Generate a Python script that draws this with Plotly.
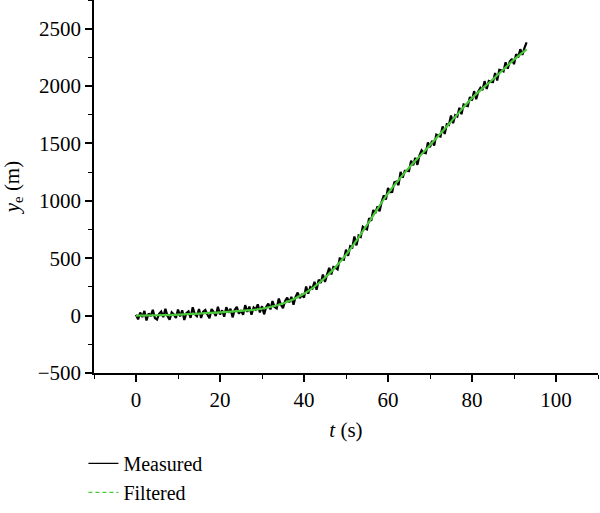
import numpy as np
import plotly.graph_objects as go

t_measured = np.arange(0, 93.01, 0.5)
measured = [
    7, -33, 27, -13, 41, -43, 18, -4, 51, -22,
    -34, 16, 35, -13, 59, -3, -36, 28, 10, -21,
    53, -7, 46, -38, 22, 37, -20, 73, 13, -5,
    57, -21, 35, 49, 10, -23, 57, 31, -4, 78,
    9, 47, -9, 74, 26, 59, -15, 50, 76, 16,
    46, 7, 91, 32, 79, 7, 71, 53, 98, 27,
    82, 11, 76, 105, 54, 127, 74, 62, 149, 95,
    65, 128, 156, 115, 163, 96, 164, 201, 152, 181,
    157, 254, 191, 249, 236, 295, 225, 313, 284, 358,
    293, 359, 417, 359, 424, 417, 404, 498, 492, 488,
    575, 521, 604, 594, 689, 612, 697, 685, 774, 760,
    751, 848, 827, 920, 892, 952, 909, 992, 1047, 1012,
    1112, 1077, 1078, 1161, 1167, 1137, 1253, 1202, 1262, 1261,
    1259, 1349, 1310, 1375, 1314, 1397, 1440, 1419, 1415, 1509,
    1467, 1522, 1482, 1577, 1567, 1561, 1649, 1582, 1667, 1660,
    1744, 1677, 1746, 1735, 1811, 1755, 1840, 1832, 1826, 1905,
    1874, 1956, 1886, 1954, 1985, 1965, 2043, 1974, 2045, 2037,
    2035, 2114, 2049, 2142, 2137, 2128, 2207, 2152, 2213, 2237,
    2191, 2278, 2250, 2321, 2272, 2332, 2380,
]

# Filtered estimate (key points)
t_filtered = [0, 5, 10, 15, 20, 25, 30, 35, 40, 45, 50, 55, 60, 65, 70, 75, 80, 85, 90, 93]
filtered = [0, 3, 8, 18, 28, 42, 60, 105, 190, 330, 530, 790, 1065, 1288, 1485, 1690, 1895, 2060, 2230, 2320]

x_ticks = [0, 20, 40, 60, 80, 100]
y_ticks = [-500, 0, 500, 1000, 1500, 2000, 2500]
y_tick_labels = ["\u2212500", "0", "500", "1000", "1500", "2000", "2500"]

FONT = "Liberation Serif"
GREEN = "#4cc83c"

fig = go.Figure()
fig.add_trace(go.Scatter(
    x=t_measured, y=measured, mode="lines", name="Measured", showlegend=False,
    line=dict(color="black", width=2.2, simplify=False),
))
fig.add_trace(go.Scatter(
    x=t_filtered, y=filtered, mode="lines", name="Filtered",
    line=dict(color=GREEN, width=2.2, shape="spline"), showlegend=False,
))
# legend entries
fig.add_trace(go.Scatter(
    x=[None], y=[None], mode="lines", name="Measured",
    line=dict(color="black", width=1.3),
))
fig.add_trace(go.Scatter(
    x=[None], y=[None], mode="lines", name="Filtered",
    line=dict(color=GREEN, width=1.2, dash="4px,3px"),
))

axis_common = dict(
    showline=True, linecolor="black", linewidth=1.5,
    ticks="outside", ticklen=7, tickwidth=1.5, tickcolor="black",
    showgrid=False, zeroline=False, mirror=False, automargin=False,
    tickfont=dict(family=FONT, size=21, color="black"),
)

fig.update_layout(
    width=600, height=513,
    paper_bgcolor="white", plot_bgcolor="white",
    margin=dict(l=94, r=2, t=0, b=140),
    font=dict(family=FONT, size=21, color="black"),
    xaxis=dict(
        range=[-10, 110], tickvals=x_ticks,
        minor=dict(dtick=10, tick0=0, ticks="outside", ticklen=4, tickwidth=1.2, tickcolor="black"),
        title=dict(text="<i>t</i> (s)", font=dict(family=FONT, size=21), standoff=11),
        **axis_common,
    ),
    yaxis=dict(
        range=[-500, 2750], tickvals=y_ticks, ticktext=y_tick_labels,
        minor=dict(dtick=250, tick0=0, ticks="outside", ticklen=4, tickwidth=1.2, tickcolor="black"),
        title=dict(text="<i>y</i><sub>e</sub> (m)", font=dict(family=FONT, size=21), standoff=19),
        **axis_common,
    ),
    legend=dict(
        x=-0.021, y=-0.19, xanchor="left", yanchor="top",
        font=dict(family=FONT, size=20),
        bgcolor="rgba(0,0,0,0)", tracegroupgap=0, itemwidth=30,
        itemclick=False, itemdoubleclick=False,
    ),
    showlegend=True,
)

fig.write_html(
    "out.html",
    config={"displayModeBar": False},
    post_script="document.body.style.margin='0';document.body.style.padding='0';",
)
